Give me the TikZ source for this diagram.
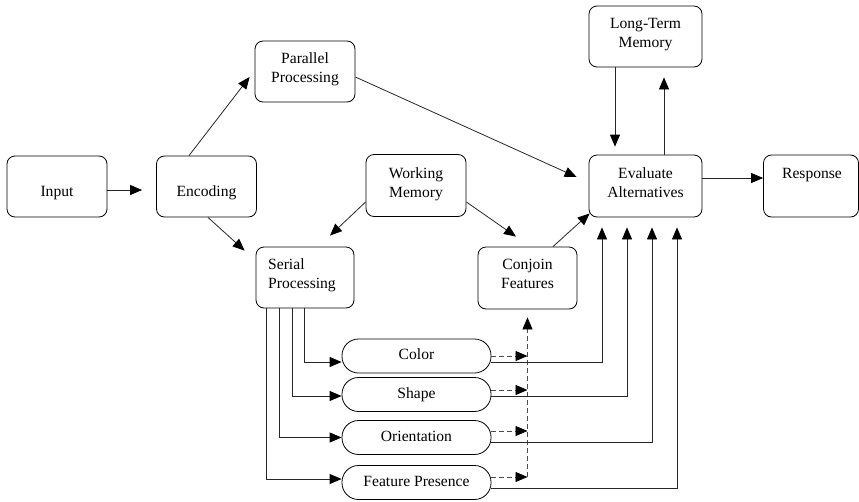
\documentclass[tikz,border=0pt]{standalone}
\usepackage{fontspec}
\setmainfont{Liberation Serif}
\newfontfamily\tmsfont{Liberation Serif}
\usetikzlibrary{arrows.meta}
\newcommand\myfs{\tmsfont\fontsize{15.6}{19}\selectfont}
\begin{document}
\begin{tikzpicture}[x=1pt,y=-1pt,
  box/.style={draw,rounded corners=8pt,line width=0.8pt,inner sep=0pt},
  oval/.style={draw,rounded corners=16.5pt,line width=0.8pt,minimum width=149pt,minimum height=34pt,inner sep=0pt,font=\myfs},
  txt/.style={anchor=north,align=center,inner sep=0pt,font=\myfs},
  arr/.style={-{Triangle[length=12pt,width=10pt,color=black]},line width=0.8pt,draw=black!85},
  darr/.style={arr,dash pattern=on 5pt off 3pt,draw=black!70}
]
\useasboundingbox (0,0) rectangle (859,501);

% boxes
\node[box,minimum width=100pt,minimum height=61pt] (in) at (57,186.5) {};
\node[box,minimum width=100pt,minimum height=61pt] (enc) at (206.5,186.5) {};
\node[box,minimum width=100pt,minimum height=61pt] (par) at (305,71.5) {};
\node[box,minimum width=100pt,minimum height=62pt] (wm) at (416,185.5) {};
\node[box,minimum width=98pt,minimum height=61pt] (sp) at (305,277.5) {};
\node[box,minimum width=99pt,minimum height=62pt] (cf) at (527.5,278) {};
\node[box,minimum width=113pt,minimum height=61pt] (ltm) at (645.5,36.5) {};
\node[box,minimum width=113pt,minimum height=62pt] (ev) at (645.5,186) {};
\node[box,minimum width=95pt,minimum height=62pt] (resp) at (811,186) {};

% box texts
\node[txt] (inT) at (57,182.7) {\strut Input};
\node[txt] (encT) at (206.5,182.7) {\strut Encoding};
\node[txt] (parT) at (305,49.7) {\strut Parallel\\Processing};
\node[txt] (wmT) at (416,164.7) {\strut Working\\Memory};
\node[txt,anchor=north west,align=left] (spT) at (268,255.7) {\strut Serial\\Processing};
\node[txt] (cfT) at (527.5,255.7) {\strut Conjoin\\Features};
\node[txt] (ltmT) at (645.5,14.7) {\strut Long-Term\\Memory};
\node[txt] (evT) at (645.5,164.7) {\strut Evaluate\\Alternatives};
\node[txt] (respT) at (812,164.7) {\strut Response};

% feature ovals
\node[oval] (col) at (416.5,356) {\strut Color};
\node[oval] (shp) at (416.5,394.5) {\strut Shape};
\node[oval] (ori) at (416.5,437.5) {\strut Orientation};
\node[oval] (fp) at (416.5,482.5) {\strut Feature Presence};

% main connectors
\draw[arr] ([yshift=-3.5pt]in.east) -- ([yshift=-3.5pt,xshift=-14pt]enc.west);
\draw[arr] ([xshift=-17.5pt]enc.north) -- ([xshift=-5pt,yshift=-5.5pt]par.west);
\draw[arr] ([xshift=1.5pt]enc.south) -- ([xshift=-11pt,yshift=-4pt]sp.north west);
\draw[arr] ([yshift=-5.5pt]par.east) -- ([xshift=-12pt,yshift=9pt]ev.west);
\draw[arr] ([yshift=-16.5pt]wm.west) -- ([xshift=25pt,yshift=11pt]sp.north);
\draw[arr] ([yshift=-16.5pt]wm.east) -- ([xshift=-11.5pt,yshift=10pt]cf.north);
\draw[arr] ([xshift=25.5pt]cf.north) -- ([xshift=1pt,yshift=4pt]ev.south west);
\draw[arr] ([xshift=-30.5pt]ltm.south) -- ([xshift=-30.5pt,yshift=8pt]ev.north);
\draw[arr] ([xshift=18.5pt]ev.north) -- ([xshift=18.5pt,yshift=-10pt]ltm.south);
\draw[arr] ([yshift=8pt]ev.east) -- ([yshift=8pt]resp.west);

% serial processing to features
\draw[arr] (sp.south -| 304,0) |- ([yshift=-6pt]col.west);
\draw[arr] (sp.south -| 292,0) |- ([yshift=-1.5pt]shp.west);
\draw[arr] (sp.south -| 279,0) |- (ori.west);
\draw[arr] (sp.south -| 266,0) |- ([yshift=3.5pt]fp.west);

% dashed to conjoin
\coordinate (d1) at (col.east);
\coordinate (d2) at ([yshift=4.5pt]shp.east);
\coordinate (d3) at ([yshift=6.5pt]ori.east);
\coordinate (d4) at ([yshift=5.5pt]fp.east);
\draw[darr] (d1) -- (d1 -| cf.south);
\draw[darr] (d2) -- (d2 -| cf.south);
\draw[darr] (d3) -- (d3 -| cf.south);
\draw[darr] (d4) -- (d4 -| cf.south);
\draw[darr] (d4 -| cf.south) -- ([yshift=-8pt]cf.south);

% features to evaluate
\coordinate (s1) at ([yshift=-6pt]col.east);
\coordinate (s2) at ([yshift=-1.5pt]shp.east);
\coordinate (s3) at ([yshift=-4.5pt]ori.east);
\coordinate (s4) at ([yshift=-5.5pt]fp.east);
\draw[arr] (s1) -| ([xshift=-43.5pt,yshift=-10pt]ev.south);
\draw[arr] (s2) -| ([xshift=-18.5pt,yshift=-10pt]ev.south);
\draw[arr] (s3) -| ([xshift=6.5pt,yshift=-10pt]ev.south);
\draw[arr] (s4) -| ([xshift=31.5pt,yshift=-10pt]ev.south);
\end{tikzpicture}
\end{document}
